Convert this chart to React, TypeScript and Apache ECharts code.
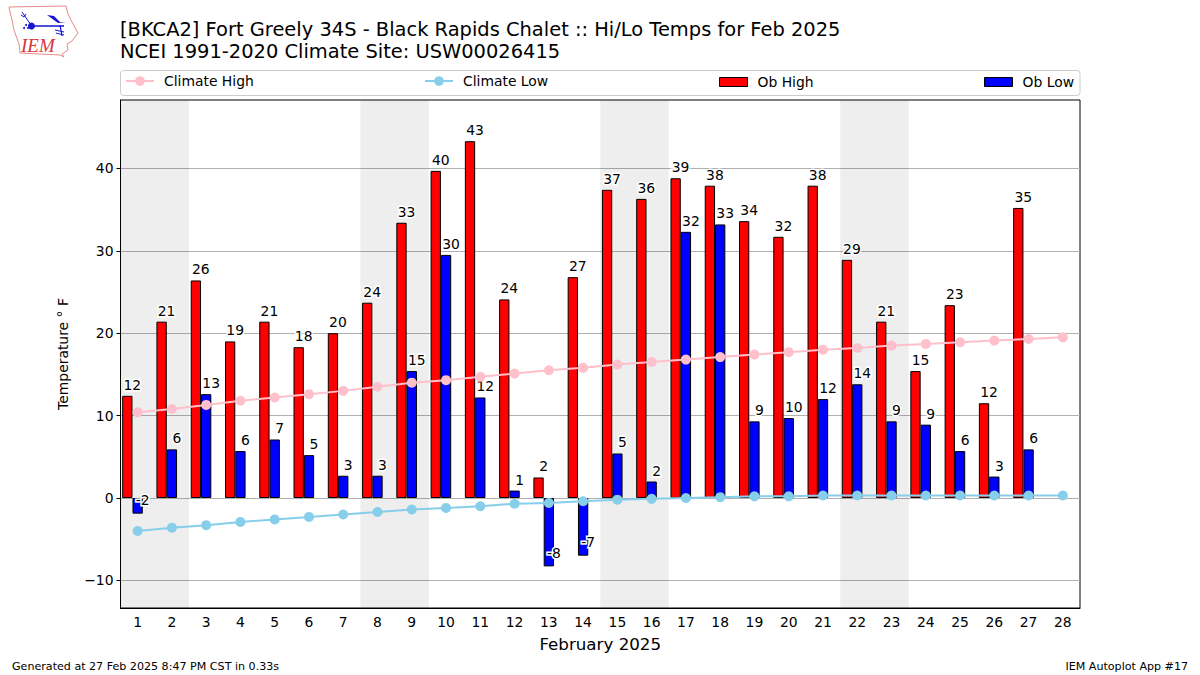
import React, { useEffect, useRef } from "react";
import * as echarts from "echarts";

const days = ["1","2","3","4","5","6","7","8","9","10","11","12","13","14","15","16","17","18","19","20","21","22","23","24","25","26","27","28"];
const obHigh = [12.4,21.4,26.4,19.0,21.4,18.3,20.0,23.7,33.4,39.7,43.3,24.1,2.49,26.8,37.4,36.3,38.8,37.9,33.6,31.7,37.9,28.9,21.4,15.4,23.4,11.5,35.2,null];
const obLow = [-1.9,5.9,12.6,5.7,7.1,5.2,2.7,2.7,15.4,29.5,12.2,0.9,-8.3,-7.0,5.4,2.0,32.3,33.2,9.3,9.7,12.0,13.8,9.3,8.9,5.7,2.6,5.9,null];
const climateHigh = [10.4,10.8,11.3,11.8,12.2,12.6,13.0,13.5,14.0,14.3,14.7,15.1,15.5,15.8,16.2,16.5,16.8,17.1,17.4,17.7,18.0,18.2,18.5,18.7,18.9,19.1,19.3,19.5];
const climateLow = [-4.0,-3.6,-3.3,-2.9,-2.6,-2.3,-2.0,-1.7,-1.4,-1.2,-1.0,-0.7,-0.6,-0.4,-0.2,-0.1,0.0,0.1,0.2,0.2,0.3,0.3,0.3,0.3,0.3,0.3,0.3,0.3];
const weekendDays = [1,2,8,9,15,16,22,23];
const yTicks = [-10,0,10,20,30,40];

const FONT = "DejaVu Sans";
const LOGO_BLUE = "#1414d2";

const barData = (vals: (number | null)[]) =>
  vals.map((v) =>
    v !== null && v < 0
      ? { value: v, label: { position: "insideBottom", distance: 6.5 } }
      : { value: v }
  );

const barLabel = {
  show: true,
  position: "top",
  distance: 4,
  offset: [5, 0],
  fontFamily: FONT,
  fontSize: 13.9,
  color: "#000",
  textBorderColor: "#fff",
  textBorderWidth: 3,
  formatter: (p: any) => String(Math.round(p.value)),
};

const legendBase = {
  top: 75,
  itemWidth: 28,
  itemHeight: 9,
  itemGap: 0,
  padding: 0,
  itemStyle: { borderWidth: 1 },
  textStyle: { fontFamily: FONT, fontSize: 13.9, color: "#000", padding: [0, 0, 0, 5] },
};
const lineLegend = { ...legendBase, top: 74, itemHeight: 12, itemStyle: {} };

const logoLine = (points: number[][], lineWidth: number) => ({
  type: "polyline",
  silent: true,
  shape: { points },
  style: { stroke: LOGO_BLUE, lineWidth, fill: "none" },
});

export default function App() {
  const ref = useRef<HTMLDivElement>(null);
  useEffect(() => {
    document.body.style.margin = "0";
    const chart = echarts.init(ref.current!, null, { renderer: "svg" });
    chart.setOption({
      animation: false,
      backgroundColor: "#fff",
      title: {
        text: "[BKCA2] Fort Greely 34S - Black Rapids Chalet :: Hi/Lo Temps for Feb 2025\nNCEI 1991-2020 Climate Site: USW00026415",
        left: 120,
        top: 18,
        padding: 0,
        textStyle: { fontFamily: FONT, fontSize: 19.46, fontWeight: "normal", color: "#000", lineHeight: 22 },
      },
      legend: [
        { ...lineLegend, left: 125, data: ["Climate High"] },
        { ...lineLegend, left: 424, data: ["Climate Low"] },
        { ...legendBase, left: 719, data: [{ name: "Ob High", icon: "rect" }] },
        { ...legendBase, left: 984, data: [{ name: "Ob Low", icon: "rect" }] },
      ],
      grid: { left: 120.5, right: 120, top: 100, bottom: 67, show: true, borderColor: "#000", borderWidth: 1, backgroundColor: "transparent" },
      xAxis: {
        type: "category",
        data: days,
        name: "February 2025",
        nameLocation: "middle",
        nameGap: 27.5,
        nameTextStyle: { fontFamily: FONT, fontSize: 16.7, color: "#000" },
        axisLine: { onZero: false, lineStyle: { color: "#000" } },
        axisTick: { alignWithLabel: true, length: 4, lineStyle: { color: "#000" } },
        axisLabel: { fontFamily: FONT, fontSize: 13.9, color: "#000", margin: 7, interval: 0 },
      },
      yAxis: {
        type: "value",
        min: -13.35,
        max: 48.3,
        name: "Temperature ° F",
        nameLocation: "middle",
        nameGap: 50.5,
        nameTextStyle: { fontFamily: FONT, fontSize: 13.9, color: "#000" },
        axisLine: { show: true, lineStyle: { color: "#000" } },
        axisTick: { show: true, length: 4, lineStyle: { color: "#000" }, customValues: yTicks },
        axisLabel: { fontFamily: FONT, fontSize: 13.9, color: "#000", margin: 7, customValues: yTicks, formatter: (v: number) => (v < 0 ? "\u2212" + Math.abs(v) : String(v)) },
        splitLine: { show: true, lineStyle: { color: "#b0b0b0", width: 1 } },
      },
      series: [
        {
          type: "custom",
          name: "Weekend",
          silent: true,
          z: 1,
          data: weekendDays.map((d) => [d - 1, 0]),
          renderItem: (params: any, api: any) => {
            const c = api.coord([api.value(0), 0]);
            const w = api.size([1, 0])[0];
            const cs = params.coordSys;
            return {
              type: "rect",
              shape: { x: c[0] - w / 2, y: cs.y, width: w, height: cs.height },
              style: { fill: "rgba(0,0,0,0.067)" },
            };
          },
        },
        {
          type: "bar",
          name: "Ob High",
          data: barData(obHigh),
          barWidth: 10.3,
          barGap: "0%",
          z: 2,
          itemStyle: { color: "#ff0000", borderColor: "#000", borderWidth: 1 },
          label: barLabel,
        },
        {
          type: "bar",
          name: "Ob Low",
          data: barData(obLow),
          barWidth: 10.3,
          barGap: "0%",
          z: 2,
          itemStyle: { color: "#0000ff", borderColor: "#000", borderWidth: 1 },
          label: barLabel,
        },
        { type: "bar", name: "Offset", data: [], barWidth: 10.3, barGap: "0%" },
        {
          type: "line",
          name: "Climate High",
          data: climateHigh,
          z: 3,
          symbol: "circle",
          symbolSize: 10,
          lineStyle: { color: "#ffc0cb", width: 2 },
          itemStyle: { color: "#ffc0cb" },
        },
        {
          type: "line",
          name: "Climate Low",
          data: climateLow,
          z: 3,
          symbol: "circle",
          symbolSize: 10,
          lineStyle: { color: "#87ceeb", width: 2 },
          itemStyle: { color: "#87ceeb" },
        },
      ],
      graphic: [
        { type: "rect", silent: true, z: -1, shape: { x: 120.5, y: 70.5, width: 959.5, height: 25, r: 3 }, style: { fill: "#fff", stroke: "#ccc", lineWidth: 1 } },
        { type: "text", left: 12, top: 661, style: { text: "Generated at 27 Feb 2025 8:47 PM CST in 0.33s", fontFamily: FONT, fontSize: 11.1, fill: "#000" } },
        { type: "text", right: 12, top: 661, style: { text: "IEM Autoplot App #17", fontFamily: FONT, fontSize: 11.1, fill: "#000" } },
        { type: "polygon", silent: true, shape: { points: [[9,7],[66,6],[68,14],[72,22],[78,33],[72,41],[67,44],[68,50],[62,54],[64,57],[60,55],[20,53],[19,44],[14,30],[12,20],[10,12]] }, style: { fill: "none", stroke: "#e58a8a", lineWidth: 1 } },
        { type: "text", silent: true, x: 21, y: 36, style: { text: "IEM", fontFamily: "Liberation Serif", fontStyle: "italic", fontSize: 19, fill: "#d8343c" } },
        logoLine([[31,26],[64,26]], 1.5),
        { type: "circle", silent: true, shape: { cx: 31.5, cy: 26, r: 3.5 }, style: { fill: LOGO_BLUE } },
        logoLine([[22,12],[31,25]], 1),
        logoLine([[21,15],[24,17],[26,14]], 1),
        { type: "polygon", silent: true, shape: { points: [[47,15],[54,16],[60,22],[66,22],[58,23]] }, style: { fill: LOGO_BLUE } },
        logoLine([[60,25],[62,36]], 1.2),
        logoLine([[55,30],[64,32]], 1),
        logoLine([[56,33],[64,35]], 1),
        { type: "circle", silent: true, shape: { cx: 24, cy: 28, r: 1 }, style: { fill: LOGO_BLUE } },
        { type: "circle", silent: true, shape: { cx: 26, cy: 25, r: 1 }, style: { fill: LOGO_BLUE } },
        { type: "circle", silent: true, shape: { cx: 28, cy: 28, r: 1 }, style: { fill: LOGO_BLUE } },
      ],
    });
    return () => chart.dispose();
  }, []);
  return <div ref={ref} style={{ position: "absolute", left: 0, top: 0, width: 1200, height: 675 }} />;
}
